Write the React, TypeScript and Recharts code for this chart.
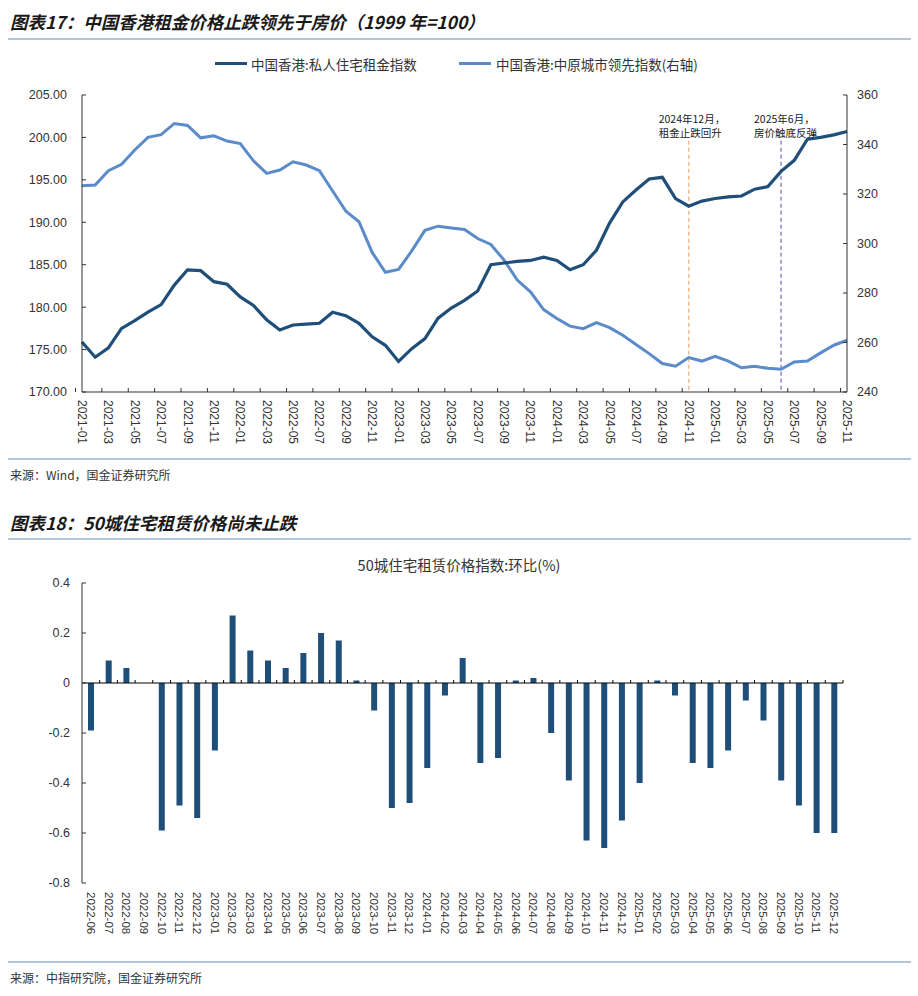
import React from 'react';
import { LineChart, Line, BarChart, Bar, XAxis, YAxis, ReferenceLine } from 'recharts';

// chart 17: monthly, 2021-01 .. 2025-11
const months = [
  '2021-01', '2021-02', '2021-03', '2021-04', '2021-05', '2021-06', '2021-07', '2021-08', '2021-09', '2021-10', '2021-11', '2021-12',
  '2022-01', '2022-02', '2022-03', '2022-04', '2022-05', '2022-06', '2022-07', '2022-08', '2022-09', '2022-10', '2022-11', '2022-12',
  '2023-01', '2023-02', '2023-03', '2023-04', '2023-05', '2023-06', '2023-07', '2023-08', '2023-09', '2023-10', '2023-11', '2023-12',
  '2024-01', '2024-02', '2024-03', '2024-04', '2024-05', '2024-06', '2024-07', '2024-08', '2024-09', '2024-10', '2024-11', '2024-12',
  '2025-01', '2025-02', '2025-03', '2025-04', '2025-05', '2025-06', '2025-07', '2025-08', '2025-09', '2025-10', '2025-11',
];

// 中国香港:私人住宅租金指数 (left axis)
const rentIndex = [
  175.9, 174.1, 175.2, 177.5, 178.4, 179.4, 180.3, 182.6, 184.4, 184.3,
  183.0, 182.7, 181.2, 180.2, 178.5, 177.3, 177.9, 178.0, 178.1, 179.4,
  179.0, 178.1, 176.5, 175.5, 173.6, 175.1, 176.3, 178.7, 179.9, 180.8,
  181.9, 185.0, 185.2, 185.4, 185.5, 185.9, 185.5, 184.4, 185.0, 186.7,
  189.9, 192.4, 193.8, 195.1, 195.3, 192.8, 191.9, 192.5, 192.8, 193.0,
  193.1, 193.9, 194.2, 196.0, 197.3, 199.8, 200.0, 200.3, 200.7,
];

// 中国香港:中原城市领先指数 (right axis)
const leadIndex = [
  323.3, 323.6, 329.4, 332.0, 337.8, 342.9, 344.0, 348.5, 347.7, 342.7,
  343.5, 341.4, 340.4, 333.4, 328.3, 329.7, 333.0, 331.7, 329.4, 321.2,
  313.1, 308.8, 296.4, 288.4, 289.5, 297.0, 305.3, 307.0, 306.3, 305.7,
  302.0, 299.6, 293.3, 285.2, 280.5, 273.3, 269.7, 266.6, 265.6, 268.0,
  266.0, 262.9, 259.2, 255.5, 251.5, 250.4, 253.9, 252.5, 254.4, 252.5,
  249.8, 250.4, 249.6, 249.2, 252.1, 252.5, 255.8, 258.9, 260.9,
];

const leftTicks = [170, 175, 180, 185, 190, 195, 200, 205];
const rightTicks = [240, 260, 280, 300, 320, 340, 360];

// chart 18: 50城住宅租赁价格指数 环比(%)
const rentMonths = [
  '2022-06', '2022-07', '2022-08', '2022-09', '2022-10', '2022-11', '2022-12',
  '2023-01', '2023-02', '2023-03', '2023-04', '2023-05', '2023-06', '2023-07', '2023-08', '2023-09', '2023-10', '2023-11', '2023-12',
  '2024-01', '2024-02', '2024-03', '2024-04', '2024-05', '2024-06', '2024-07', '2024-08', '2024-09', '2024-10', '2024-11', '2024-12',
  '2025-01', '2025-02', '2025-03', '2025-04', '2025-05', '2025-06', '2025-07', '2025-08', '2025-09', '2025-10', '2025-11', '2025-12',
];
const rentMoM = [
  -0.19, 0.09, 0.06, 0, -0.59, -0.49, -0.54,
  -0.27, 0.27, 0.13, 0.09, 0.06, 0.12, 0.20, 0.17, 0.01, -0.11, -0.50, -0.48,
  -0.34, -0.05, 0.10, -0.32, -0.30, 0.01, 0.02, -0.20, -0.39, -0.63, -0.66, -0.55,
  -0.40, 0.01, -0.05, -0.32, -0.34, -0.27, -0.07, -0.15, -0.39, -0.49, -0.60, -0.60,
];
const momTicks = [-0.8, -0.6, -0.4, -0.2, 0, 0.2, 0.4];

const DARK = '#1f4e79';
const LIGHT = '#5b8bc9';
const RULE = '#b3c5d8';
const TEXT = '#333';
const CJK = '"Noto Sans CJK SC", sans-serif';

const topData = months.map((m, i) => ({ month: m, rent: rentIndex[i], lead: leadIndex[i] }));
const barData = rentMonths.map((m, i) => ({ month: m, mom: rentMoM[i] }));

// month label, rotated to read downwards, with a small tick at the category boundary
function TopMonthTick(props: any) {
  const { x, y, payload } = props;
  const half = payload && payload.offset ? payload.offset : 6.5;
  return (
    <g>
      <line x1={x - half} x2={x - half} y1={y - 4} y2={y} stroke={TEXT} />
      <text x={x} y={y + 8} transform={`rotate(90, ${x}, ${y + 8})`} textAnchor="start"
        dominantBaseline="central" fontSize={12} fill={TEXT}>{payload.value}</text>
    </g>
  );
}

function BarMonthTick(props: any) {
  const { x, y, payload } = props;
  return (
    <text x={x} y={y + 9} transform={`rotate(90, ${x}, ${y + 9})`} textAnchor="start"
      dominantBaseline="central" fontSize={11.5} fill={TEXT}>{payload.value}</text>
  );
}

// zero line with little tick marks between categories
function ZeroLine(props: any) {
  const { x1, x2, y1 } = props;
  const n = rentMoM.length;
  const step = (x2 - x1) / n;
  const marks = [];
  for (let i = 1; i <= n; i++) {
    marks.push(<line key={i} x1={x1 + step * i} x2={x1 + step * i} y1={y1 - 3} y2={y1} stroke="#000" />);
  }
  return (
    <g>
      <line x1={x1} x2={x2} y1={y1} y2={y1} stroke="#000" strokeWidth={1} />
      {marks}
    </g>
  );
}

const annotation = (lines: string[], dx: number) => (props: any) => {
  const vb = props.viewBox || { x: 0, y: 0 };
  return (
    <text x={vb.x + dx} y={vb.y - 18} fontSize={10.5} fill="#222" fontFamily={CJK}>
      {lines.map((l, i) => (
        <tspan key={i} x={vb.x + dx} dy={i === 0 ? 0 : 14}>{l}</tspan>
      ))}
    </text>
  );
};

function Rule({ top }: { top: number }) {
  return <div style={{ position: 'absolute', left: 8, width: 903, top, height: 2, background: RULE }} />;
}

export default function App() {
  return (
    <div style={{ position: 'absolute', left: 0, top: 0, width: 918, height: 996, background: '#fff', overflow: 'hidden', fontFamily: '"Liberation Sans", "Noto Sans CJK SC", sans-serif', color: TEXT }}>
      {/* Chart 17 */}
      <div style={{ position: 'absolute', left: 10, top: 11, height: 22, lineHeight: '22px', fontSize: 17.5, fontWeight: 700, fontStyle: 'italic', fontFamily: CJK, color: '#1a1a1a' }}>
        图表17：中国香港租金价格止跌领先于房价（1999 年=100）
      </div>
      <Rule top={38} />

      <div style={{ position: 'absolute', left: 215, top: 62, width: 32, height: 3, background: DARK }} />
      <div style={{ position: 'absolute', left: 251, top: 54, lineHeight: '20px', fontSize: 13.5, fontFamily: CJK }}>中国香港:私人住宅租金指数</div>
      <div style={{ position: 'absolute', left: 459, top: 62, width: 32, height: 3, background: LIGHT }} />
      <div style={{ position: 'absolute', left: 496, top: 54, lineHeight: '20px', fontSize: 13.5, fontFamily: CJK }}>中国香港:中原城市领先指数(右轴)</div>

      <div style={{ position: 'absolute', left: 0, top: 80 }}>
        <LineChart width={918} height={380} data={topData} margin={{ top: 15, right: 11, bottom: 8, left: 10 }}>
          <XAxis dataKey="month" interval={1} height={60} tickSize={0} tickMargin={0}
            axisLine={{ stroke: TEXT }} tickLine={false} tick={<TopMonthTick />} />
          <YAxis yAxisId="left" width={72} domain={[170, 205]} ticks={leftTicks} interval={0}
            tickFormatter={(v: number) => v.toFixed(2)} tickSize={-4} tickMargin={19}
            axisLine={{ stroke: TEXT }} tickLine={{ stroke: TEXT }} tick={{ fontSize: 12.5, fill: TEXT }} />
          <YAxis yAxisId="right" orientation="right" width={60} domain={[240, 360]} ticks={rightTicks} interval={0}
            tickSize={-4} tickMargin={14}
            axisLine={{ stroke: TEXT }} tickLine={{ stroke: TEXT }} tick={{ fontSize: 12.5, fill: TEXT }} />
          <ReferenceLine yAxisId="left" segment={[{ x: '2024-11', y: 199.6 }, { x: '2024-11', y: 170 }]}
            stroke="#f4b183" strokeDasharray="4 3" strokeWidth={1.3}
            label={annotation(['2024年12月，', '租金止跌回升'], -30)} />
          <ReferenceLine yAxisId="left" segment={[{ x: '2025-06', y: 199.6 }, { x: '2025-06', y: 170 }]}
            stroke="#6b6bbf" strokeDasharray="4 3" strokeWidth={1.2}
            label={annotation(['2025年6月，', '房价触底反弹'], -27)} />
          <Line yAxisId="right" dataKey="lead" stroke={LIGHT} strokeWidth={3} dot={false} isAnimationActive={false} />
          <Line yAxisId="left" dataKey="rent" stroke={DARK} strokeWidth={3.2} dot={false} isAnimationActive={false} />
        </LineChart>
      </div>

      <Rule top={458} />
      <div style={{ position: 'absolute', left: 10, top: 467, lineHeight: '16px', fontSize: 12, fontFamily: CJK }}>来源：Wind，国金证券研究所</div>

      {/* Chart 18 */}
      <div style={{ position: 'absolute', left: 10, top: 512, height: 22, lineHeight: '22px', fontSize: 17.5, fontWeight: 700, fontStyle: 'italic', fontFamily: CJK, color: '#1a1a1a' }}>
        图表18：50城住宅租赁价格尚未止跌
      </div>
      <Rule top={538} />

      <div style={{ position: 'absolute', left: 0, width: 918, top: 554, lineHeight: '22px', textAlign: 'center', fontSize: 14.5, fontFamily: CJK }}>
        50城住宅租赁价格指数:环比(%)
      </div>

      <div style={{ position: 'absolute', left: 0, top: 540 }}>
        <BarChart width={918} height={420} data={barData} margin={{ top: 43, right: 75, bottom: 12, left: 12 }}>
          <XAxis dataKey="month" interval={0} height={65} tickSize={0} tickMargin={0}
            axisLine={false} tickLine={false} tick={<BarMonthTick />} />
          <YAxis width={70} domain={[-0.8, 0.4]} ticks={momTicks} interval={0}
            tickFormatter={(v: number) => String(Math.round(v * 10) / 10)}
            tickSize={-4} tickMargin={16}
            axisLine={{ stroke: TEXT }} tickLine={{ stroke: TEXT }} tick={{ fontSize: 12.5, fill: TEXT }} />
          <Bar dataKey="mom" fill={DARK} barSize={6} isAnimationActive={false} />
          <ReferenceLine y={0} stroke="#000" shape={<ZeroLine />} />
        </BarChart>
      </div>

      <Rule top={961} />
      <div style={{ position: 'absolute', left: 10, top: 970, lineHeight: '16px', fontSize: 12, fontFamily: CJK }}>来源：中指研究院，国金证券研究所</div>
    </div>
  );
}
